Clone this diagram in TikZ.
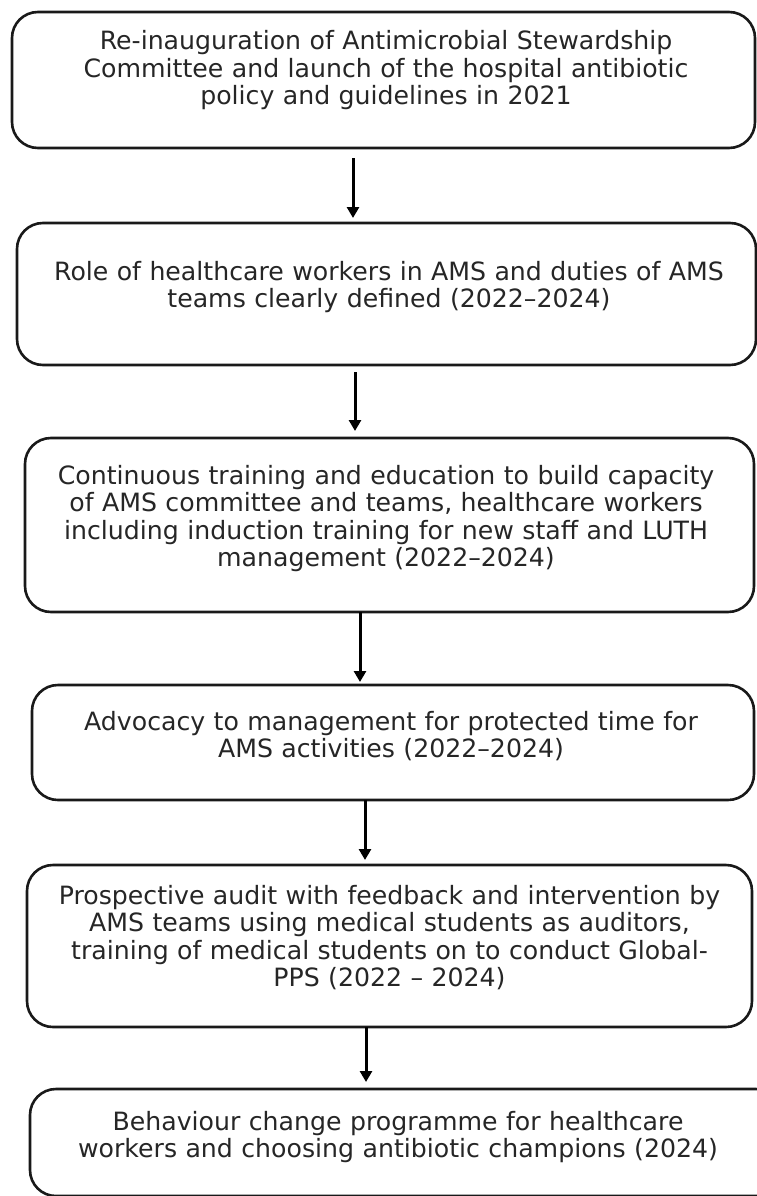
\documentclass[tikz,border=0pt]{standalone}
\usepackage{fontspec}
\setmainfont{DejaVu Sans}
\usetikzlibrary{arrows.meta}

\begin{document}
\begin{tikzpicture}[x=1pt, y=-1pt,
        stage/.style={draw=black!90, line width=2.6pt, rounded corners=26pt, outer sep=0pt, inner sep=0pt, fill=white},
        stagetext/.style={anchor=base, align=center, text width=740pt, inner sep=0pt, font=\fontsize{25.2}{27.5}\selectfont, text=black!85},
        flow/.style={line width=3pt, black, -{Triangle[length=11pt,width=12pt]}}]
        \path[use as bounding box, clip] (0,0) rectangle (757,1196);
        \node[stage, minimum width=743pt, minimum height=136pt] (relaunch) at (383.5,80) {};
        \node[stage, minimum width=739pt, minimum height=142pt] (roles) at (386.5,294) {};
        \node[stage, minimum width=729pt, minimum height=174pt] (training) at (389.5,525) {};
        \node[stage, minimum width=722pt, minimum height=115pt] (advocacy) at (393,742.5) {};
        \node[stage, minimum width=725pt, minimum height=162pt] (audit) at (389.5,946) {};
        \node[stage, minimum width=752pt, minimum height=107pt] (behaviour) at (406,1142.5) {};
        \node[stagetext] (relaunch-txt) at ([xshift=2.5pt,yshift=-38pt]relaunch.north) {Re-inauguration of Antimicrobial Stewardship\\Committee and launch of the hospital antibiotic\\policy and guidelines in 2021};
        \node[stagetext] (roles-txt) at ([xshift=2.5pt,yshift=-57pt]roles.north) {Role of healthcare workers in AMS and duties of AMS\\teams clearly defined (2022–2024)};
        \node[stagetext] (training-txt) at ([xshift=-3.5pt,yshift=-46pt]training.north) {Continuous training and education to build capacity\\of AMS committee and teams, healthcare workers\\including induction training for new staff and LUTH\\management (2022–2024)};
        \node[stagetext] (advocacy-txt) at ([xshift=-2pt,yshift=-45pt]advocacy.north) {Advocacy to management for protected time for\\AMS activities (2022–2024)};
        \node[stagetext] (audit-txt) at ([yshift=-39pt]audit.north) {Prospective audit with feedback and intervention by\\AMS teams using medical students as auditors,\\training of medical students on to conduct Global-\\PPS (2022 – 2024)};
        \node[stagetext] (behaviour-txt) at ([xshift=-8pt,yshift=-41pt]behaviour.north) {Behaviour change programme for healthcare\\workers and choosing antibiotic champions (2024)};
        \draw[flow] ([xshift=-30.5pt,yshift=-10pt]relaunch.south) -- ([xshift=-30.5pt,yshift=5pt]relaunch.south |- roles.north);
        \draw[flow] ([xshift=-31.5pt,yshift=-7pt]roles.south) -- ([xshift=-31.5pt,yshift=7pt]roles.south |- training.north);
        \draw[flow] ([xshift=-29.5pt]training.south) -- ([xshift=-29.5pt,yshift=3pt]training.south |- advocacy.north);
        \draw[flow] ([xshift=-28pt]advocacy.south) -- ([xshift=-28pt,yshift=5pt]advocacy.south |- audit.north);
        \draw[flow] ([xshift=-23.5pt]audit.south) -- ([xshift=-23.5pt,yshift=7pt]audit.south |- behaviour.north);
    \end{tikzpicture}
\end{document}
